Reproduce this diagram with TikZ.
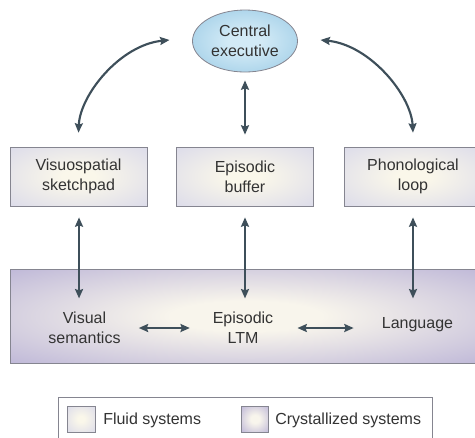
\documentclass[tikz,border=0pt]{standalone}
\usepackage{fontspec}
\setmainfont{Liberation Sans}
\usetikzlibrary{arrows.meta,shapes.geometric}
\definecolor{arrowc}{HTML}{3E4F5A}
\definecolor{edgec}{HTML}{858590}
\definecolor{boxout}{HTML}{D8D8EA}
\definecolor{boxin}{HTML}{FAF7EA}
\definecolor{bigout}{HTML}{AEA6D2}
\definecolor{bigin}{HTML}{F8F5EC}
\definecolor{ellout}{HTML}{9DCCE6}
\definecolor{ellin}{HTML}{D2EAF6}
\definecolor{txt}{HTML}{333333}
\pgfdeclareradialshading{fluidshade}{\pgfpoint{0bp}{0bp}}{color(0bp)=(boxin); color(6bp)=(boxin); color(40bp)=(boxout); color(50bp)=(boxout)}
\pgfdeclareradialshading{crystshade}{\pgfpoint{0bp}{0bp}}{color(0bp)=(bigin); color(8bp)=(bigin); color(44bp)=(bigout); color(50bp)=(bigout)}
\pgfdeclareradialshading{ellshade}{\pgfpoint{0bp}{0bp}}{color(0bp)=(ellin); color(8bp)=(ellin); color(34bp)=(ellout); color(50bp)=(ellout)}
\begin{document}
\begin{tikzpicture}[x=0.75pt,y=-0.75pt,
  arr/.style={{Stealth[length=7pt,width=6pt,inset=1pt]}-{Stealth[length=7pt,width=6pt,inset=1pt]}, line width=1.6pt, draw=arrowc},
  lbl/.style={font=\fontsize{12}{15}\selectfont, align=center, text=txt, inner sep=0pt},
  fluidbox/.style={rectangle, draw=edgec, line width=0.6pt, shading=fluidshade, lbl, minimum height=44.25pt},
  crystbox/.style={rectangle, draw=edgec, line width=0.6pt, shading=crystshade},
  keytext/.style={lbl, anchor=west}]
\path[use as bounding box] (0,0) rectangle (475,437);
\clip (0,0) rectangle (475,437);
\fill[white] (0,0) rectangle (475,437);

% central executive
\node[ellipse, draw=edgec, line width=0.6pt, shading=ellshade, lbl, minimum width=78.75pt, minimum height=46.5pt] (ce) at (245,41) {Central\\executive};

% fluid systems
\node[fluidbox, minimum width=102.75pt] (vs) at (78.5,176.5) {Visuospatial\\sketchpad};
\node[fluidbox, minimum width=102.75pt] (eb) at (245,176.5) {Episodic\\buffer};
\node[fluidbox, minimum width=103.5pt] (pl) at (413,176.5) {Phonological\\loop};

% crystallized systems
\node[crystbox, minimum width=354pt, minimum height=70.5pt] (big) at (246,316) {};
\node[lbl] (vsem) at (84.5,328) {Visual\\semantics};
\node[lbl] (eltm) at (243,328) {Episodic\\LTM};
\node[lbl] (lang) at (417.5,325) {Language};

% arrows to the central executive
\draw[arr] ([xshift=-17pt,yshift=0.75pt]ce.west) .. controls (120,45) and (80,95) .. ([yshift=10.5pt]vs.north);
\draw[arr] ([xshift=17pt,yshift=0.75pt]ce.east) .. controls (370,45) and (411,95) .. ([yshift=10.5pt]pl.north);
\draw[arr] ([yshift=-6pt]ce.south) -- ([yshift=9pt]eb.north);

% arrows between fluid and crystallized systems
\draw[arr] ([xshift=0.4pt,yshift=-8.25pt]vs.south) -- ([xshift=0.4pt,yshift=-69pt]vs.south);
\draw[arr] ([yshift=-8.25pt]eb.south) -- ([yshift=-69pt]eb.south);
\draw[arr] ([yshift=-8.25pt]pl.south) -- ([yshift=-69pt]pl.south);

% arrows within crystallized systems
\draw[arr, shorten <=13.5pt, shorten >=17pt] (vsem.east) -- (eltm.west);
\draw[arr, shorten <=18pt, shorten >=21pt] (eltm.east) -- (eltm.east -| lang.west);

% legend
\node[rectangle, draw=edgec, line width=0.6pt, fill=white, minimum width=280.5pt, minimum height=45pt] (legend) at (245,427) {};
\node[rectangle, draw=edgec, line width=0.6pt, shading=fluidshade, minimum width=21pt, minimum height=19.5pt] (fluidkey) at (81,419) {};
\node[rectangle, draw=edgec, line width=0.6pt, shading=crystshade, minimum width=20.25pt, minimum height=19.5pt] (crystkey) at (255,419) {};
\node[keytext] (fluidtext) at (103,420) {Fluid systems};
\node[keytext] (crysttext) at (275,420) {Crystallized systems};
\end{tikzpicture}
\end{document}
